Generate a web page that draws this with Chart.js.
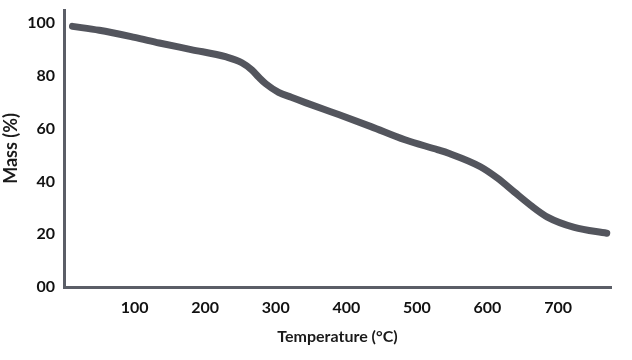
<!DOCTYPE html>
<html>
<head>
<meta charset="utf-8">
<script src="https://cdn.jsdelivr.net/npm/chart.js@4.4.1/dist/chart.umd.min.js"></script>
<style>
html,body{margin:0;padding:0;background:#fff;}
#wrap{width:632px;height:360px;position:relative;}
</style>
</head>
<body>
<div id="wrap"><canvas id="c" width="632" height="360"></canvas></div>
<script>
const temperatures = [12, 50, 100, 135, 180, 230, 252, 266, 276, 286, 304, 322, 342, 370, 389, 435, 483, 530, 544, 590, 614, 638, 661, 685, 723, 769];
const masses       = [98.8, 97.3, 94.6, 92.5, 90, 87.2, 85, 82.3, 79.5, 77, 73.8, 71.9, 69.9, 67.2, 65.4, 60.8, 55.8, 52, 50.8, 45.6, 41.3, 36, 31, 26.5, 22.6, 20.4];
const xTickValues = [100, 200, 300, 400, 500, 600, 700];
const yTickValues = [0, 20, 40, 60, 80, 100];
const yTickLabels = ['00', '20', '40', '60', '80', '100'];

const axisColor = '#5b5e67';
const lineColor = '#53555d';
const fontFam = 'Lato, "Open Sans", sans-serif';

new Chart(document.getElementById('c'), {
  type: 'line',
  data: {
    datasets: [{
      data: temperatures.map((t, i) => ({x: t, y: masses[i]})),
      borderColor: lineColor,
      borderWidth: 7,
      tension: 0.4,
      cubicInterpolationMode: 'monotone',
      pointRadius: 0,
      borderCapStyle: 'round',
      borderJoinStyle: 'round',
      fill: false
    }]
  },
  options: {
    responsive: false,
    animation: false,
    layout: {padding: {left: 0, right: 21, top: 10, bottom: 0}},
    plugins: {legend: {display: false}, tooltip: {enabled: false}},
    scales: {
      x: {
        type: 'linear',
        min: 0,
        max: 775,
        grid: {display: false},
        border: {display: true, color: axisColor, width: 3},
        afterBuildTicks: ax => { ax.ticks = xTickValues.map(v => ({value: v})); },
        afterFit: ax => { ax.height = 73; ax.paddingLeft = 0; ax.paddingRight = 0; },
        ticks: {
          color: '#111',
          font: {family: fontFam, size: 16, weight: 'bold'},
          padding: 3,
          maxRotation: 0
        },
        title: {
          display: true,
          text: 'Temperature (°C)',
          color: '#1a1a1a',
          font: {family: fontFam, size: 16, weight: 'bold'},
          padding: {top: 4, bottom: 14}
        }
      },
      y: {
        min: 0,
        max: 105,
        grid: {display: false},
        border: {display: true, color: axisColor, width: 3},
        afterBuildTicks: ax => { ax.ticks = yTickValues.map(v => ({value: v})); },
        afterFit: ax => { ax.width = 64; ax.paddingTop = 0; ax.paddingBottom = 0; },
        ticks: {
          color: '#111',
          font: {family: fontFam, size: 16, weight: 'bold'},
          padding: 1,
          callback: (v) => { const i = yTickValues.indexOf(v); return i >= 0 ? yTickLabels[i] : ''; }
        },
        title: {
          display: true,
          text: 'Mass (%)',
          color: '#1a1a1a',
          font: {family: fontFam, size: 18, weight: 'bold'},
          padding: {top: 0, bottom: 0}
        }
      }
    }
  }
});
</script>
</body>
</html>
